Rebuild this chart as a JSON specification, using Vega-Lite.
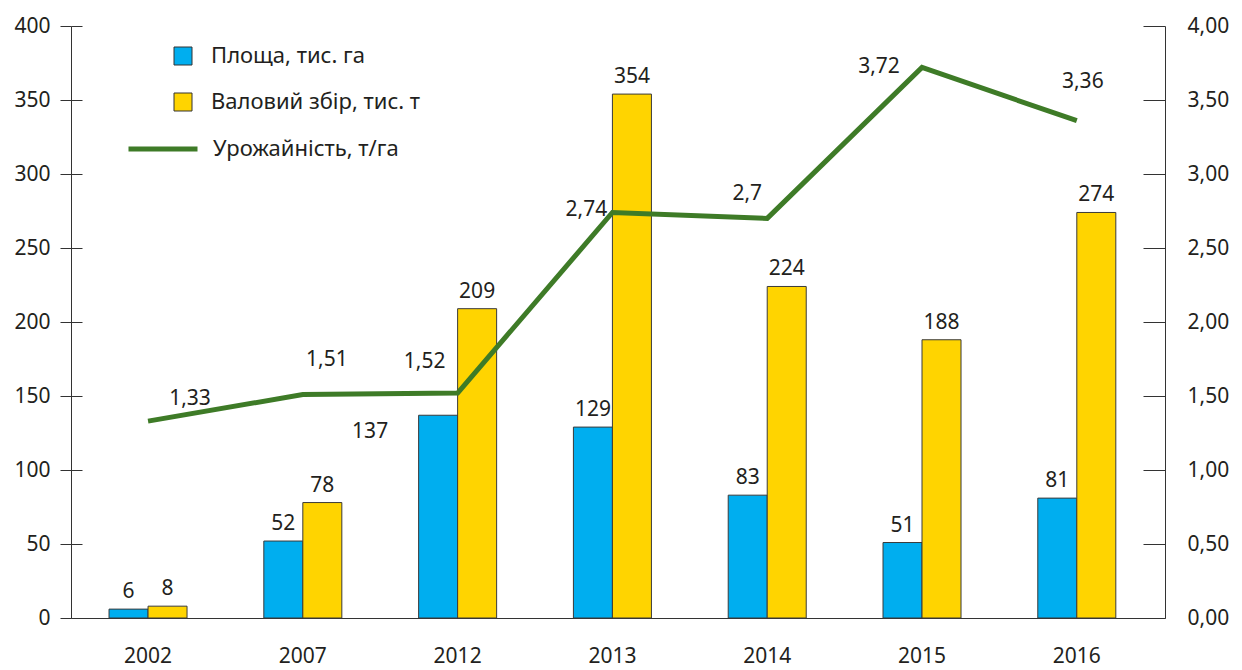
{
  "$schema": "https://vega.github.io/schema/vega-lite/v6.json",
  "autosize": "none",
  "width": 1094,
  "height": 592,
  "padding": {"left": 71, "top": 26, "right": 77, "bottom": 52},
  "background": "white",
  "datasets": {
    "bars": [
      {"year": "2002", "series": "Площа, тис. га", "value": 6},
      {"year": "2002", "series": "Валовий збір, тис. т", "value": 8},
      {"year": "2007", "series": "Площа, тис. га", "value": 52},
      {"year": "2007", "series": "Валовий збір, тис. т", "value": 78},
      {"year": "2012", "series": "Площа, тис. га", "value": 137},
      {"year": "2012", "series": "Валовий збір, тис. т", "value": 209},
      {"year": "2013", "series": "Площа, тис. га", "value": 129},
      {"year": "2013", "series": "Валовий збір, тис. т", "value": 354},
      {"year": "2014", "series": "Площа, тис. га", "value": 83},
      {"year": "2014", "series": "Валовий збір, тис. т", "value": 224},
      {"year": "2015", "series": "Площа, тис. га", "value": 51},
      {"year": "2015", "series": "Валовий збір, тис. т", "value": 188},
      {"year": "2016", "series": "Площа, тис. га", "value": 81},
      {"year": "2016", "series": "Валовий збір, тис. т", "value": 274}
    ],
    "yield": [
      {"year": "2002", "yield": 1.33},
      {"year": "2007", "yield": 1.51},
      {"year": "2012", "yield": 1.52},
      {"year": "2013", "yield": 2.74},
      {"year": "2014", "yield": 2.7},
      {"year": "2015", "yield": 3.72},
      {"year": "2016", "yield": 3.36}
    ]
  },
  "encoding": {
    "x": {
      "field": "year", "type": "nominal", "title": null,
      "scale": {"paddingInner": 0.496, "paddingOuter": 0.2817, "align": 0.436}
    }
  },
  "layer": [
    {
      "data": {"name": "bars"},
      "encoding": {
        "y": {
          "field": "value", "type": "quantitative", "title": null,
          "scale": {"domain": [0, 400], "nice": false},
          "axis": {
            "orient": "left", "values": [0, 50, 100, 150, 200, 250, 300, 350, 400],
            "tickSize": 11, "labelPadding": 10, "grid": true, "gridDash": [11, 3000],
            "gridColor": "#333", "gridOpacity": 1, "gridWidth": 1
          }
        },
        "xOffset": {"field": "series", "type": "nominal", "sort": ["Площа, тис. га", "Валовий збір, тис. т"], "scale": {"paddingInner": 0, "paddingOuter": 0}}
      },
      "layer": [
        {
          "mark": {"type": "bar", "stroke": "#3a3a3a", "strokeWidth": 1},
          "encoding": {
            "fill": {
              "field": "series", "type": "nominal",
              "scale": {"domain": ["Площа, тис. га", "Валовий збір, тис. т"], "range": ["#00AEEF", "#FFD400"]},
              "legend": {
                "orient": "none", "legendX": 101, "legendY": 19, "title": null, "padding": 0,
                "symbolType": "square", "symbolSize": 324, "symbolStrokeColor": "#333", "symbolStrokeWidth": 1,
                "labelFontSize": 22, "labelOffset": 17, "rowPadding": 24, "labelColor": "#231F20", "labelFont": "Noto Sans"
              }
            }
          }
        },
        {
          "transform": [{"filter": "!(datum.year === '2012' && datum.series === 'Площа, тис. га')"}],
          "mark": {"type": "text", "baseline": "alphabetic", "dy": -11, "fontSize": 21, "font": "Noto Sans", "color": "#231F20"},
          "encoding": {"text": {"field": "value", "type": "quantitative"}}
        },
        {
          "transform": [{"filter": "datum.year === '2012' && datum.series === 'Площа, тис. га'"}],
          "mark": {"type": "text", "baseline": "alphabetic", "dx": -68, "dy": 23, "fontSize": 21, "font": "Noto Sans", "color": "#231F20"},
          "encoding": {"text": {"field": "value", "type": "quantitative"}}
        }
      ]
    },
    {
      "data": {"name": "yield"},
      "encoding": {
        "y": {
          "field": "yield", "type": "quantitative", "title": null,
          "scale": {"domain": [0, 4], "nice": false},
          "axis": {
            "orient": "right", "values": [0, 0.5, 1, 1.5, 2, 2.5, 3, 3.5, 4], "format": ".2f",
            "ticks": false, "labelPadding": 22, "grid": true, "gridDash": [22, 3000],
            "gridColor": "#333", "gridOpacity": 1, "gridWidth": 1
          }
        }
      },
      "layer": [
        {
          "mark": {"type": "line", "strokeWidth": 5, "strokeJoin": "miter"},
          "encoding": {
            "stroke": {
              "datum": "Урожайність, т/га",
              "scale": {"range": ["#3E7B27"]},
              "legend": {
                "orient": "none", "legendX": 55, "legendY": 86, "title": null, "padding": 0,
                "symbolType": "stroke", "symbolSize": 4761, "symbolStrokeWidth": 5,
                "labelFontSize": 22, "labelOffset": 13, "labelColor": "#231F20", "labelFont": "Noto Sans"
              }
            }
          }
        },
        {"transform": [{"filter": "datum.year === '2002'"}], "mark": {"type": "text", "baseline": "alphabetic", "dx": 42, "dy": -16, "fontSize": 21, "font": "Noto Sans", "color": "#231F20"}, "encoding": {"text": {"field": "yield", "type": "quantitative", "format": "~g"}}},
        {"transform": [{"filter": "datum.year === '2007'"}], "mark": {"type": "text", "baseline": "alphabetic", "dx": 24, "dy": -29, "fontSize": 21, "font": "Noto Sans", "color": "#231F20"}, "encoding": {"text": {"field": "yield", "type": "quantitative", "format": "~g"}}},
        {"transform": [{"filter": "datum.year === '2012'"}], "mark": {"type": "text", "baseline": "alphabetic", "dx": -33, "dy": -25, "fontSize": 21, "font": "Noto Sans", "color": "#231F20"}, "encoding": {"text": {"field": "yield", "type": "quantitative", "format": "~g"}}},
        {"transform": [{"filter": "datum.year === '2013'"}], "mark": {"type": "text", "baseline": "alphabetic", "dx": -26, "dy": 4, "fontSize": 21, "font": "Noto Sans", "color": "#231F20"}, "encoding": {"text": {"field": "yield", "type": "quantitative", "format": "~g"}}},
        {"transform": [{"filter": "datum.year === '2014'"}], "mark": {"type": "text", "baseline": "alphabetic", "dx": -20, "dy": -18, "fontSize": 21, "font": "Noto Sans", "color": "#231F20"}, "encoding": {"text": {"field": "yield", "type": "quantitative", "format": "~g"}}},
        {"transform": [{"filter": "datum.year === '2015'"}], "mark": {"type": "text", "baseline": "alphabetic", "dx": -43, "dy": 6, "fontSize": 21, "font": "Noto Sans", "color": "#231F20"}, "encoding": {"text": {"field": "yield", "type": "quantitative", "format": "~g"}}},
        {"transform": [{"filter": "datum.year === '2016'"}], "mark": {"type": "text", "baseline": "alphabetic", "dx": 6, "dy": -33, "fontSize": 21, "font": "Noto Sans", "color": "#231F20"}, "encoding": {"text": {"field": "yield", "type": "quantitative", "format": "~g"}}}
      ]
    }
  ],
  "resolve": {"scale": {"y": "independent", "fill": "independent", "stroke": "independent"}},
  "config": {
    "locale": {"number": {"decimal": ",", "thousands": " ", "grouping": [3], "currency": ["", ""]}},
    "view": {"stroke": null},
    "font": "Noto Sans",
    "axis": {
      "labelFont": "Noto Sans", "labelFontSize": 21, "labelColor": "#231F20",
      "domainColor": "#333", "tickColor": "#333", "domainWidth": 1, "tickWidth": 1
    },
    "axisX": {"ticks": false, "labelAngle": 0, "labelPadding": 27, "grid": false},
    "legend": {"labelLimit": 400}
  }
}
